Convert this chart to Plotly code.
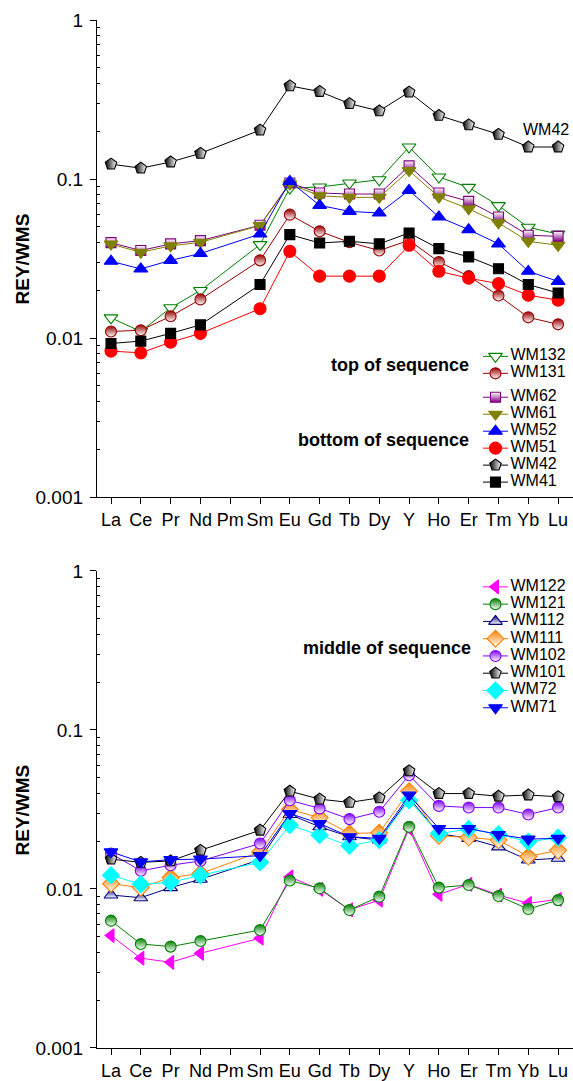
import plotly.graph_objects as go

ELEMENTS = ["La", "Ce", "Pr", "Nd", "Pm", "Sm", "Eu", "Gd", "Tb", "Dy", "Y", "Ho", "Er", "Tm", "Yb", "Lu"]
Y_TICKS = [0.001, 0.01, 0.1, 1]
Y_TICK_TEXT = ["0.001", "0.01", "0.1", "1"]

# ---- top panel (top / bottom of sequence) ----
WM132 = [0.0134, 0.0110, 0.0155, 0.0199, None, 0.0387, 0.0878, 0.0891, 0.0944, 0.099, 0.159, 0.103, 0.0886, 0.068, 0.0497, 0.0451]
WM131 = [0.0110, 0.0112, 0.0137, 0.0175, None, 0.0308, 0.0597, 0.0469, 0.040, 0.0355, 0.0412, 0.0301, 0.0245, 0.0185, 0.0135, 0.0122]
WM62 = [0.0398, 0.0355, 0.0391, 0.041, None, 0.0512, 0.0944, 0.0817, 0.0805, 0.0805, 0.121, 0.0817, 0.0724, 0.0577, 0.0443, 0.0436]
WM61 = [0.039, 0.0346, 0.038, 0.040, None, 0.051, 0.093, 0.0785, 0.0767, 0.0767, 0.113, 0.077, 0.065, 0.053, 0.0406, 0.0383]
WM52 = [0.0304, 0.0272, 0.0308, 0.034, None, 0.0451, 0.0966, 0.0683, 0.0626, 0.0611, 0.0849, 0.0577, 0.0481, 0.0391, 0.0263, 0.0227]
WM51 = [0.00828, 0.00807, 0.00942, 0.0107, None, 0.0153, 0.0351, 0.0245, 0.0245, 0.0245, 0.0383, 0.0263, 0.0238, 0.022, 0.0186, 0.0173]
WM42 = [0.124, 0.117, 0.128, 0.145, None, 0.203, 0.385, 0.355, 0.298, 0.268, 0.352, 0.251, 0.219, 0.191, 0.159, 0.159]
WM41 = [0.00925, 0.00957, 0.0107, 0.0121, None, 0.0217, 0.0447, 0.0396, 0.0406, 0.0391, 0.0458, 0.0365, 0.0324, 0.0273, 0.0217, 0.0192]

# ---- bottom panel (middle of sequence) ----
WM122 = [0.00509, 0.00367, 0.00346, 0.00394, None, 0.0049, 0.0119, 0.00994, 0.0074, 0.0085, 0.024, 0.00925, 0.0107, 0.00916, 0.00812, 0.00861]
WM121 = [0.00632, 0.00451, 0.00434, 0.00471, None, 0.00552, 0.0113, 0.0101, 0.00738, 0.00895, 0.0246, 0.0102, 0.0106, 0.00903, 0.00748, 0.00851]
WM112 = [0.00916, 0.00881, 0.0102, 0.0115, None, 0.0153, 0.0294, 0.0246, 0.0213, 0.0203, 0.0374, 0.0223, 0.0208, 0.0184, 0.0152, 0.0156]
WM111 = [0.0108, 0.0102, 0.0118, 0.0125, None, 0.0171, 0.0316, 0.0281, 0.0223, 0.0226, 0.0412, 0.0216, 0.0211, 0.0203, 0.0160, 0.0175]
WM102 = [0.0167, 0.0130, 0.0141, 0.0150, None, 0.0193, 0.0361, 0.0321, 0.0275, 0.0306, 0.0519, 0.0333, 0.0325, 0.0325, 0.0294, 0.0325]
WM101 = [0.0154, 0.0147, 0.0150, 0.0175, None, 0.0234, 0.0412, 0.0367, 0.0350, 0.0374, 0.0553, 0.0398, 0.0398, 0.0383, 0.039, 0.038]
WM72 = [0.0122, 0.0107, 0.0110, 0.0122, None, 0.0147, 0.0252, 0.0218, 0.0187, 0.0203, 0.0361, 0.0223, 0.0238, 0.0221, 0.0198, 0.021]
WM71 = [0.0171, 0.0148, 0.0153, 0.0154, None, 0.0162, 0.0298, 0.0258, 0.0213, 0.0208, 0.0389, 0.024, 0.024, 0.022, 0.0206, 0.0208]

TOP_NAMES = ["WM132", "WM131", "WM62", "WM61", "WM52", "WM51", "WM42", "WM41"]
TOP_VALUES = [WM132, WM131, WM62, WM61, WM52, WM51, WM42, WM41]
TOP_GROUP = [0, 0, 1, 1, 1, 1, 1, 1]
BOT_NAMES = ["WM122", "WM121", "WM112", "WM111", "WM102", "WM101", "WM72", "WM71"]
BOT_VALUES = [WM122, WM121, WM112, WM111, WM102, WM101, WM72, WM71]

# name: (colour, symbol, fill style, size)
STYLE = {
    "WM132": ("#008000", "triangle-down", "open", 12),
    "WM131": ("#990000", "circle", "top", 11),
    "WM62": ("#800080", "square", "bottom", 10),
    "WM61": ("#808000", "triangle-down", "solid", 12),
    "WM52": ("#0000FF", "triangle-up", "solid", 12),
    "WM51": ("#FF0000", "circle", "solid", 12),
    "WM42": ("#000000", "pentagon", "left", 12),
    "WM41": ("#000000", "square", "solid", 10),
    "WM122": ("#FF00FF", "triangle-left", "solid", 12),
    "WM121": ("#008000", "circle", "top", 11),
    "WM112": ("#000080", "triangle-up", "top", 12),
    "WM111": ("#FF8000", "diamond", "top", 13),
    "WM102": ("#8000FF", "circle", "top", 11),
    "WM101": ("#000000", "pentagon", "left", 12),
    "WM72": ("#00FFFF", "diamond", "solid", 13),
    "WM71": ("#0000FF", "triangle-down", "solid", 12),
}

FONT = "Arial, 'Liberation Sans', Helvetica, sans-serif"


def marker_for(name, size=None, opacity=None):
    color, symbol, fill, s = STYLE[name]
    m = dict(symbol=symbol, size=s if size is None else size,
             line=dict(color=color, width=1.1))
    if fill == "solid":
        m["color"] = color
    elif fill == "open":
        m["color"] = "white"
    elif fill == "top":
        m["color"] = color
        m["gradient"] = dict(type="vertical", color="white")
    elif fill == "bottom":
        m["color"] = "white"
        m["gradient"] = dict(type="vertical", color=color)
    elif fill == "left":
        m["color"] = color
        m["gradient"] = dict(type="horizontal", color="white")
    if opacity is not None:
        m["opacity"] = opacity
    return m


fig = go.Figure()

for xa, ya, names, values in (("x", "y", TOP_NAMES, TOP_VALUES), ("x2", "y2", BOT_NAMES, BOT_VALUES)):
    for name, vals in zip(names, values):
        color = STYLE[name][0]
        fig.add_trace(go.Scatter(
            x=ELEMENTS, y=vals, name=name, mode="lines+markers",
            connectgaps=True, xaxis=xa, yaxis=ya, showlegend=False,
            line=dict(color=color, width=1),
            marker=marker_for(name),
        ))

# custom legends (sample line + marker, then label), positioned on hidden axes
SAMPLE_X = [0, 1, 2]
LABEL_X = 2.2


def legend_entry(name, pos, xa, ya):
    color, _, _, s = STYLE[name]
    fig.add_trace(go.Scatter(
        x=SAMPLE_X, y=[pos] * 3, mode="lines+markers", xaxis=xa, yaxis=ya,
        showlegend=False, hoverinfo="skip", line=dict(color=color, width=1),
        marker=marker_for(name, size=[0, s, 0], opacity=[0, 1, 0]),
    ))
    fig.add_trace(go.Scatter(
        x=[LABEL_X], y=[pos], mode="text", xaxis=xa, yaxis=ya,
        showlegend=False, hoverinfo="skip",
        text=[name], textposition="middle right",
        textfont=dict(family=FONT, size=16, color="black"),
    ))


for k, name in enumerate(TOP_NAMES):
    legend_entry(name, k + 0.41 * TOP_GROUP[k], "x5", "y5")
for k, name in enumerate(BOT_NAMES):
    legend_entry(name, k, "x6", "y6")

X_RANGE = [-0.47, 15.5]
TOP_DOM = [0.5359, 1.0]
BOT_DOM = [0.0, 0.4641]
MINOR_VALS = [m * 10 ** e for e in (-3, -2, -1) for m in range(2, 10)]

xcommon = dict(type="category", categoryorder="array", categoryarray=ELEMENTS,
               range=X_RANGE, ticks="outside", ticklen=6, tickwidth=1, tickcolor="black",
               showline=True, linecolor="black", linewidth=1.3, showgrid=False, zeroline=False,
               tickfont=dict(family=FONT, size=18, color="black"))
ycommon = dict(type="log", range=[-3, 0], tickvals=Y_TICKS, ticktext=Y_TICK_TEXT,
               ticks="outside", ticklen=6, tickwidth=1, tickcolor="black",
               showline=True, linecolor="black", linewidth=1.3, showgrid=False, zeroline=False,
               tickfont=dict(family=FONT, size=19, color="black"), ticklabelstandoff=3,
               minor=dict(tickmode="array", tickvals=MINOR_VALS, ticks="inside", ticklen=3,
                          tickwidth=1, tickcolor="black", showgrid=False))
topline = dict(type="linear", range=X_RANGE, tickmode="array", tickvals=list(range(len(ELEMENTS))),
               ticks="inside", ticklen=3, tickwidth=1, tickcolor="black", showticklabels=False,
               showline=True, linecolor="black", linewidth=1.3, showgrid=False, zeroline=False,
               side="top")

fig.update_layout(
    width=573, height=1081, autosize=False,
    margin=dict(l=97, r=0, t=20, b=31),
    paper_bgcolor="white", plot_bgcolor="rgba(0,0,0,0)",
    showlegend=False,
    font=dict(family=FONT, size=16, color="black"),
    xaxis=dict(domain=[0, 1], anchor="y", **xcommon),
    yaxis=dict(domain=TOP_DOM, anchor="x", **ycommon),
    xaxis2=dict(domain=[0, 1], anchor="y2", **xcommon),
    yaxis2=dict(domain=BOT_DOM, anchor="x2", **ycommon),
    xaxis3=dict(overlaying="x", anchor="y", **topline),
    xaxis4=dict(overlaying="x2", anchor="y2", **topline),
    xaxis5=dict(domain=[0.8046, 1.0], anchor="y5", range=[-0.24, 7.2], visible=False),
    yaxis5=dict(domain=[0.5340, 0.6893], anchor="x5", range=[8.41, -1], visible=False),
    xaxis6=dict(domain=[0.8046, 1.0], anchor="y6", range=[-0.24, 7.2], visible=False),
    yaxis6=dict(domain=[0.3204, 0.4612], anchor="x6", range=[7.63, -0.751], visible=False),
)


def ann(text, x, y, xanchor="right", size=18, angle=0):
    fig.add_annotation(text=text, x=x, y=y, xref="paper", yref="paper",
                       xanchor=xanchor, yanchor="middle", showarrow=False, textangle=angle,
                       font=dict(family=FONT, size=size, color="black"))


ann("<b>top of sequence</b>", 0.7857, 0.6641)
ann("<b>bottom of sequence</b>", 0.7857, 0.5913)
ann("<b>middle of sequence</b>", 0.7899, 0.3893)
ann("WM42", 0.8918, 0.8932, xanchor="left", size=16)
ann("<b>REY/WMS</b>", -0.1555, 0.7680, xanchor="center", size=19, angle=-90)
ann("<b>REY/WMS</b>", -0.1555, 0.2320, xanchor="center", size=19, angle=-90)

fig.write_html("out.html")
